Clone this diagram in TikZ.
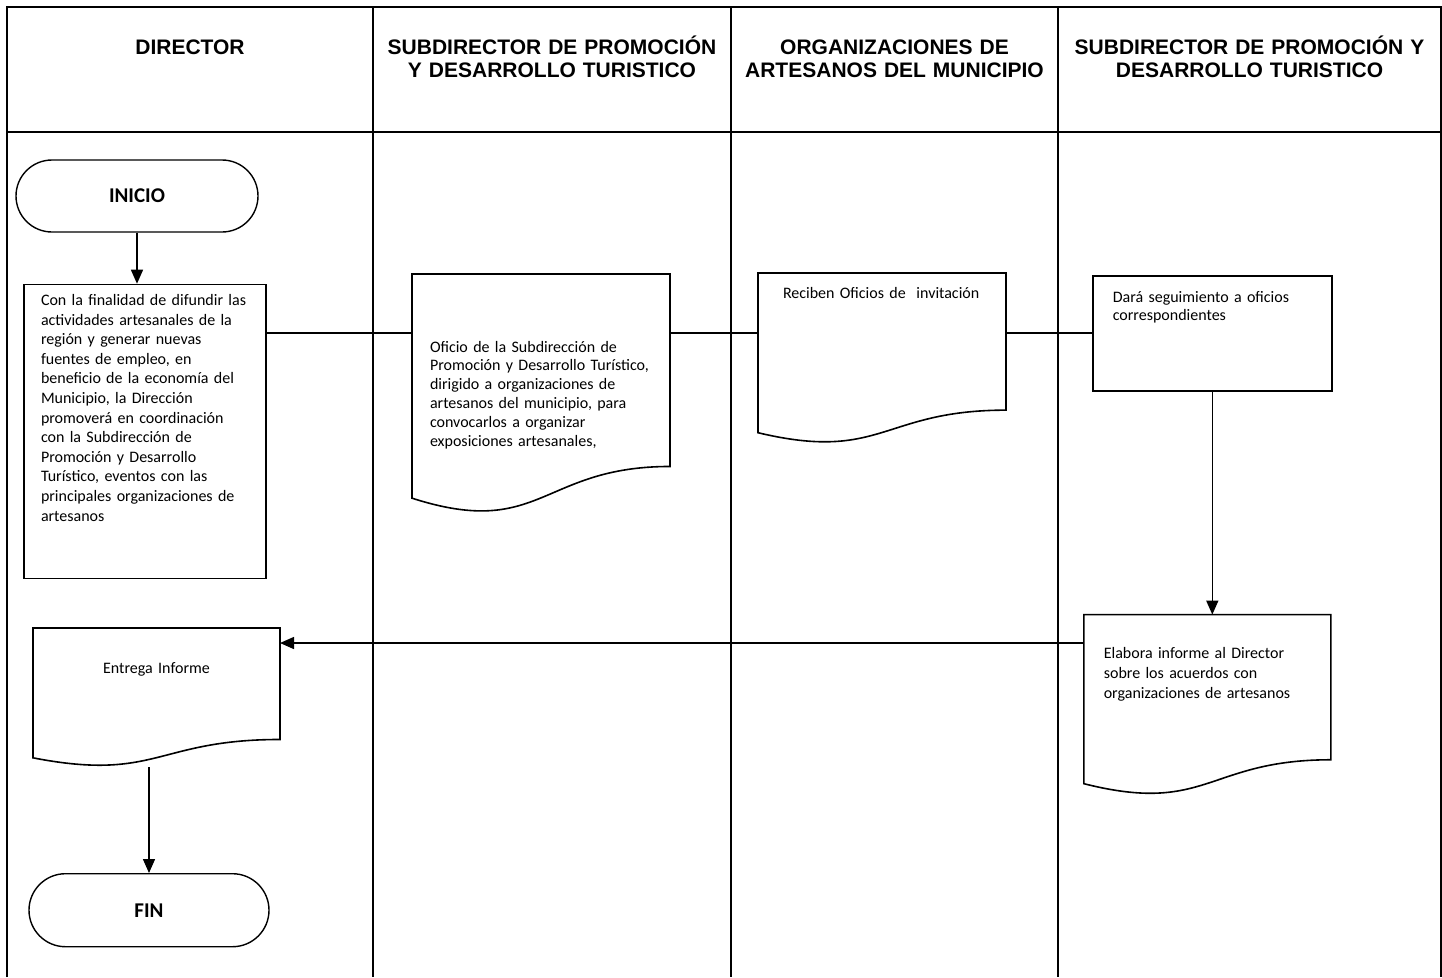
\documentclass[tikz,border=0pt]{standalone}
\usepackage{fontspec}
\setmainfont{Carlito}
\newfontfamily\headfont{Liberation Sans}
\usetikzlibrary{arrows.meta}
\usetikzlibrary{positioning,
                calc}

% outline of a document symbol on a named node
\newcommand{\docoutline}[1]{%
  \draw[docline] (#1.north west) -- (#1.north east)
    -- ($(#1.north east)!0.802!(#1.south east)$)
    .. controls ($(#1.north)!0.802!(#1.south)$) and ($(#1.north)!1.107!(#1.south)$)
    .. ($(#1.north west)!0.934!(#1.south west)$) -- cycle;}

\begin{document}
\begin{tikzpicture}[
        x=1pt, y=-1pt,
        lane/.style={line width=1.8pt, line join=miter},
        head/.style={font=\headfont\bfseries\fontsize{21}{23}\selectfont, text width=370pt, align=center, anchor=base, inner sep=0pt},
        term/.style={draw, line width=1.4pt, rounded corners=36pt, minimum width=242pt, minimum height=72pt, inner sep=0pt, font=\bfseries\fontsize{21}{25}\selectfont},
        procbox/.style={draw, line width=1.6pt, inner ysep=0pt, align=left, font=\fontsize{16}{19.6}\selectfont},
        docbox/.style={inner ysep=0pt, outer sep=0pt, align=left, font=\fontsize{16}{19.6}\selectfont},
        docline/.style={line width=1.6pt, line join=miter},
        link/.style={line width=1.5pt},
        flow/.style={line width=1.5pt, -{Triangle[length=14pt, width=12pt]}}
        ]
        \useasboundingbox (0,0) rectangle (1442,977);

        % Lanes
        \draw[lane] (7,977) -- (7,7) -- (1441,7) -- (1441,977);
        \draw[lane] (7,132) -- (1441,132);
        \draw[lane] (373,7) -- (373,977);
        \draw[lane] (731,7) -- (731,977);
        \draw[lane] (1058,7) -- (1058,977);

        % Headers
        \node[head] (hdirector) at (190,54.5) {DIRECTOR};
        \node[head] (hsubdir) at (552,54.5) {SUBDIRECTOR DE PROMOCIÓN\\Y DESARROLLO TURISTICO};
        \node[head] (horgs) at (894.5,54.5) {ORGANIZACIONES DE\\ARTESANOS DEL MUNICIPIO};
        \node[head] (hsubdirb) at (1249.5,54.5) {SUBDIRECTOR DE PROMOCIÓN Y\\DESARROLLO TURISTICO};

        % Nodes
        \node[term] (inicio) at (137,196) {INICIO};
        \node[procbox, below=51pt of inicio, xshift=8pt, text width=208pt, inner xsep=17pt, text height=21pt, text depth=273pt] (difundir)
            {Con la finalidad de difundir las\\actividades artesanales de la\\región y generar nuevas\\fuentes de empleo, en\\beneficio de la economía del\\Municipio, la Dirección\\promoverá en coordinación\\con la Subdirección de\\Promoción y Desarrollo\\Turístico, eventos con las\\principales organizaciones de\\artesanos};
        \node[docbox, anchor=north west, text width=222pt, inner xsep=18pt, text height=78pt, text depth=162pt,
              font=\fontsize{16}{18.8}\selectfont] (oficio) at (412,274)
            {Oficio de la Subdirección de\\Promoción y Desarrollo Turístico,\\dirigido a organizaciones de\\artesanos del municipio, para\\convocarlos a organizar\\exposiciones artesanales,};
        \node[docbox, anchor=north west, text width=198pt, inner xsep=25pt, text height=25pt, text depth=146pt] (reciben) at (758,273)
            {Reciben Oficios de\ \ invitación};
        \node[procbox, anchor=north west, text width=199pt, inner xsep=20pt, text height=27pt, text depth=88pt,
              font=\fontsize{16}{18}\selectfont] (seguim) at (1092,275)
            {Dará seguimiento a oficios\\correspondientes};
        \node[docbox, below=223pt of seguim, xshift=-5pt, text width=207pt, inner xsep=20pt, text height=44pt, text depth=137pt,
              font=\fontsize{16}{19.8}\selectfont] (informe)
            {Elabora informe al Director\\sobre los acuerdos con\\organizaciones de artesanos};
        \node[docbox, anchor=north west, align=center, text width=207pt, inner xsep=20pt, text height=45pt, text depth=94pt] (entrega) at (33,628)
            {Entrega Informe};
        \node[term, below=106pt of entrega, xshift=-7.5pt, minimum width=240pt, minimum height=73pt, rounded corners=36.5pt] (fin) {FIN};

        \docoutline{oficio}
        \docoutline{reciben}
        \docoutline{informe}
        \docoutline{entrega}

        % Arrows
        \coordinate (linkrow) at (0,333);
        \coordinate (backrow) at (0,643);
        \draw[flow] (inicio.south) -- (inicio.south |- difundir.north);
        \draw[link] (difundir.east |- linkrow) -- (oficio.west |- linkrow);
        \draw[link] (oficio.east |- linkrow) -- (reciben.west |- linkrow);
        \draw[link] (reciben.east |- linkrow) -- (seguim.west |- linkrow);
        \draw[flow] (seguim.south) -- (seguim.south |- informe.north);
        \draw[flow] (informe.west |- backrow) -- (entrega.east |- backrow);
        \draw[flow] (fin.north |- entrega.south) -- (fin.north);

\end{tikzpicture}
\end{document}
